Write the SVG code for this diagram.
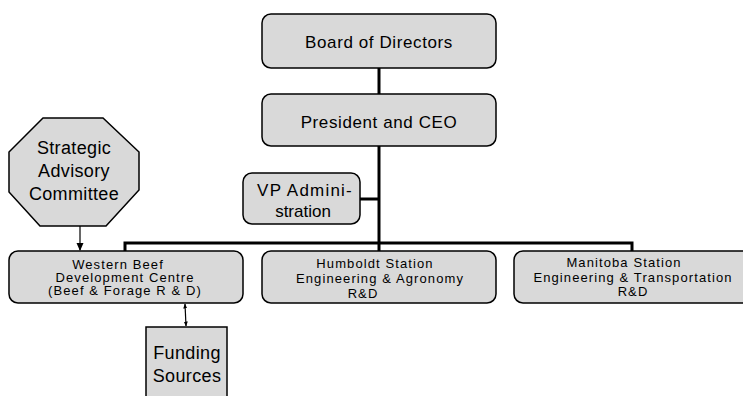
<svg xmlns="http://www.w3.org/2000/svg" width="743" height="396" viewBox="0 0 743 396">
<style>
.box{fill:#d9d9d9;stroke:#000;stroke-width:1.5}
.t{font-family:"Liberation Sans",Arial,sans-serif;fill:#000;text-anchor:middle}
.big{font-size:17px;letter-spacing:0.6px}
.sm{font-size:13px;letter-spacing:1.1px}
.oct{font-size:18px;letter-spacing:0.35px}
.bus{stroke:#000;stroke-width:3;fill:none}
.thin{stroke:#000;stroke-width:1.2;fill:none}
</style>
<defs>
<marker id="ah" markerWidth="8" markerHeight="8" refX="7" refY="4" orient="auto" markerUnits="userSpaceOnUse">
<path d="M0,0.5 L8,4 L0,7.5 Z" fill="#000"/>
</marker>
<marker id="sa" markerWidth="5" markerHeight="5" refX="4.5" refY="2.5" orient="auto-start-reverse" markerUnits="userSpaceOnUse">
<path d="M0,0.5 L5,2.5 L0,4.5 Z" fill="#000"/>
</marker>
</defs>
<g id="connectors">
<path class="bus" d="M379,68 V94"/>
<path class="bus" d="M379,146 V243"/>
<path class="bus" d="M360,199 H379"/>
<path class="bus" d="M125,251 V243 H632 V251"/>
<path class="bus" d="M379,243 V251"/>
<path class="thin" d="M80,226 V250" marker-end="url(#ah)"/>
<path class="thin" d="M185,304 L186,326" marker-start="url(#sa)" marker-end="url(#sa)"/>
</g>
<g id="board">
<rect class="box" x="262" y="14" width="234" height="54" rx="9"/>
<text class="t big" x="379" y="48">Board of Directors</text>
</g>
<g id="president">
<rect class="box" x="262" y="94" width="234" height="52" rx="9"/>
<text class="t big" x="379" y="128">President and CEO</text>
</g>
<g id="vp">
<rect class="box" x="243" y="173" width="117" height="51" rx="9"/>
<text class="t big" x="305" y="196" style="letter-spacing:1.2px">VP Admini-</text>
<text class="t big" x="303" y="217" style="letter-spacing:0px">stration</text>
</g>
<g id="strategic">
<polygon class="box" points="43,118 103,118 139,152 139,190 106,226 40,226 9,192 9,152"/>
<text class="t oct" x="74" y="154">Strategic</text>
<text class="t oct" x="74" y="177">Advisory</text>
<text class="t oct" x="74" y="200">Committee</text>
</g>
<g id="wbdc">
<rect class="box" x="9" y="251" width="234" height="52" rx="9"/>
<text class="t sm" x="118" y="269">Western Beef</text>
<text class="t sm" x="125" y="282">Development Centre</text>
<text class="t sm" x="125" y="295">(Beef &amp; Forage R &amp; D)</text>
</g>
<g id="humboldt">
<rect class="box" x="262" y="251" width="234" height="52" rx="9"/>
<text class="t sm" x="375" y="268">Humboldt Station</text>
<text class="t sm" x="380" y="283">Engineering &amp; Agronomy</text>
<text class="t sm" x="363" y="298">R&amp;D</text>
</g>
<g id="manitoba">
<rect class="box" x="514" y="251" width="238" height="52" rx="9"/>
<text class="t sm" x="624" y="267">Manitoba Station</text>
<text class="t sm" x="633" y="282">Engineering &amp; Transportation</text>
<text class="t sm" x="633" y="296">R&amp;D</text>
</g>
<g id="funding">
<rect class="box" x="146" y="327" width="81" height="80"/>
<text class="t oct" x="187" y="359">Funding</text>
<text class="t oct" x="187" y="382">Sources</text>
</g>
</svg>
